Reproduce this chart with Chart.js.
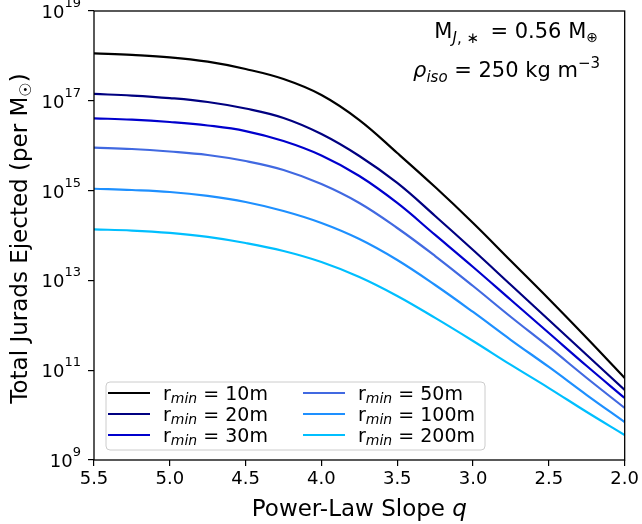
<!DOCTYPE html>
<html>
<head>
<meta charset="utf-8">
<script src="https://cdn.jsdelivr.net/npm/chart.js@4"></script>
<style>
  html, body { margin: 0; padding: 0; background: #fff; }
  #wrap { width: 642px; height: 524px; }
</style>
</head>
<body>
<div id="wrap"><canvas id="chart" width="642" height="524"></canvas></div>
<script>
// power-law slope q (x axis runs from 5.5 down to 2.0)
const qValues = [5.5, 5.25, 5.0, 4.75, 4.5, 4.25, 4.0, 3.75, 3.5, 3.25, 3.0, 2.75, 2.5, 2.25, 2.0];

// total jurads ejected per solar mass
const jurads10m  = [1.14e18, 1.05e18, 9.31e17, 7.43e17, 5.11e17, 3.06e17, 1.35e17, 3.73e16, 6.88e15, 1.2e15, 1.9e14, 2.7e13, 3.85e12, 5.2e11, 6.7e10];
const jurads20m  = [1.42e17, 1.31e17, 1.15e17, 9.4e16, 6.73e16, 4.14e16, 1.82e16, 5.9e15, 1.48e15, 2.72e14, 4.75e13, 7.9e12, 1.31e12, 2.18e11, 3.62e10];
const jurads30m  = [4.07e16, 3.81e16, 3.37e16, 2.82e16, 2.12e16, 1.27e16, 6.05e15, 2.11e15, 5.3e14, 1.03e14, 1.99e13, 3.66e12, 6.74e11, 1.24e11, 2.4e10];
const jurads50m  = [9.03e15, 8.45e15, 7.43e15, 6.21e15, 4.56e15, 2.88e15, 1.4e15, 5.3e14, 1.47e14, 3.49e13, 7.5e12, 1.53e12, 3.29e11, 6.7e10, 1.44e10];
const jurads100m = [1.1e15, 1.03e15, 9.3e14, 7.6e14, 5.57e14, 3.51e14, 1.9e14, 8.35e13, 2.85e13, 7.9e12, 1.98e12, 4.7e11, 1.18e11, 2.8e10, 7.0e9];
const jurads200m = [1.37e14, 1.29e14, 1.14e14, 9.3e13, 6.8e13, 4.52e13, 2.57e13, 1.19e13, 4.5e12, 1.46e12, 4.47e11, 1.31e11, 4.0e10, 1.17e10, 3.6e9];

const rMinLabels = ['10m', '20m', '30m', '50m', '100m', '200m'];
const lineColors = ['#000000', '#000080', '#0000cd', '#4169e1', '#1e90ff', '#00bfff'];
const yTickValues = [1e9, 1e11, 1e13, 1e15, 1e17, 1e19];

const FONT = '"DejaVu Sans", "Liberation Sans", sans-serif';

const allSeries = [jurads10m, jurads20m, jurads30m, jurads50m, jurads100m, jurads200m];
const datasets = allSeries.map((series, i) => ({
  label: 'r_min = ' + rMinLabels[i],
  data: qValues.map((q, j) => ({ x: q, y: series[j] })),
  borderColor: lineColors[i],
  borderWidth: 2.2,
  pointRadius: 0,
  fill: false,
  tension: 0.4
}));

// draw a run of text pieces (with sub/superscripts) in one go
function drawParts(ctx, parts, x, y, align) {
  let total = 0;
  parts.forEach(p => {
    ctx.font = (p.italic ? 'italic ' : '') + p.size + 'px ' + FONT;
    p.w = ctx.measureText(p.t).width;
    total += p.w;
  });
  let cx = align === 'right' ? x - total : align === 'center' ? x - total / 2 : x;
  ctx.textAlign = 'left';
  ctx.textBaseline = 'alphabetic';
  parts.forEach(p => {
    ctx.font = (p.italic ? 'italic ' : '') + p.size + 'px ' + FONT;
    ctx.fillText(p.t, cx, y + (p.dy || 0));
    cx += p.w;
  });
}

const extrasPlugin = {
  id: 'extras',
  afterDraw(chart) {
    const ctx = chart.ctx;
    const area = chart.chartArea;
    const yScale = chart.scales.y;
    ctx.save();
    ctx.fillStyle = '#000';

    // frame
    ctx.strokeStyle = '#000';
    ctx.lineWidth = 1.3;
    ctx.strokeRect(area.left, area.top, area.right - area.left, area.bottom - area.top);

    // y tick labels as 10^n
    yTickValues.forEach(v => {
      const py = yScale.getPixelForValue(v);
      const exp = String(Math.round(Math.log10(v)));
      drawParts(ctx, [
        { t: '10', size: 18 },
        { t: exp, size: 13, dy: -11 }
      ], 81, py + 7, 'right');
    });

    // axis titles
    drawParts(ctx, [
      { t: 'Power-Law Slope ', size: 23 },
      { t: 'q', size: 23, italic: true }
    ], (area.left + area.right) / 2, 516, 'center');

    ctx.save();
    ctx.translate(27, (area.top + area.bottom) / 2 + 3);
    ctx.rotate(-Math.PI / 2);
    drawParts(ctx, [
      { t: 'Total Jurads Ejected (per M', size: 23 },
      { t: '\u2609', size: 16, dy: 4 },
      { t: ')', size: 23 }
    ], 0, 0, 'center');
    ctx.restore();

    // annotation, top right
    drawParts(ctx, [
      { t: 'M', size: 21 },
      { t: 'J', size: 15, italic: true, dy: 5 },
      { t: ', \u2217 ', size: 15, dy: 5 },
      { t: ' = 0.56 M', size: 21 },
      { t: '\u2295', size: 14, dy: 4 }
    ], 598, 38, 'right');
    drawParts(ctx, [
      { t: '\u03c1', size: 21, italic: true },
      { t: 'iso', size: 15, italic: true, dy: 5 },
      { t: ' = 250 kg m', size: 21 },
      { t: '\u22123', size: 15, dy: -9 }
    ], 600, 77, 'right');

    // legend, two columns
    const lx = 106, ly = 382, lw = 379, lh = 68;
    ctx.beginPath();
    ctx.roundRect(lx, ly, lw, lh, 4);
    ctx.fillStyle = 'rgba(255,255,255,0.8)';
    ctx.fill();
    ctx.strokeStyle = '#cccccc';
    ctx.lineWidth = 1;
    ctx.stroke();
    chart.data.datasets.forEach((ds, i) => {
      const col = Math.floor(i / 3), row = i % 3;
      const x0 = col === 0 ? 108 : 303;
      const yy = 393 + row * 21;
      ctx.strokeStyle = ds.borderColor;
      ctx.lineWidth = 2.2;
      ctx.beginPath();
      ctx.moveTo(x0, yy);
      ctx.lineTo(x0 + 42, yy);
      ctx.stroke();
      ctx.fillStyle = '#000';
      drawParts(ctx, [
        { t: 'r', size: 19 },
        { t: 'min', size: 14, italic: true, dy: 3 },
        { t: ' = ' + rMinLabels[i], size: 19 }
      ], x0 + 55, yy + 7, 'left');
    });
    ctx.restore();
  }
};

new Chart(document.getElementById('chart'), {
  type: 'line',
  data: { datasets },
  options: {
    responsive: false,
    animation: false,
    layout: { padding: { top: 11, right: 16, left: 0, bottom: 0 } },
    plugins: {
      legend: { display: false },
      tooltip: { enabled: false }
    },
    scales: {
      x: {
        type: 'linear',
        reverse: true,
        min: 2.0,
        max: 5.5,
        border: { display: false },
        grid: { drawOnChartArea: false, drawTicks: true, tickLength: 6, color: '#000', lineWidth: 1.2 },
        ticks: {
          stepSize: 0.5,
          color: '#000',
          font: { family: FONT, size: 18 },
          padding: 3,
          maxRotation: 0,
          callback: v => v.toFixed(1)
        },
        afterFit: s => { s.height = 64; }
      },
      y: {
        type: 'logarithmic',
        min: 1e9,
        max: 1e19,
        border: { display: false },
        grid: { drawOnChartArea: false, drawTicks: true, tickLength: 6, color: '#000', lineWidth: 1.2 },
        ticks: { display: false },
        afterBuildTicks: s => { s.ticks = yTickValues.map(v => ({ value: v })); },
        afterFit: s => { s.width = 94; }
      }
    }
  },
  plugins: [extrasPlugin]
});
</script>
</body>
</html>
